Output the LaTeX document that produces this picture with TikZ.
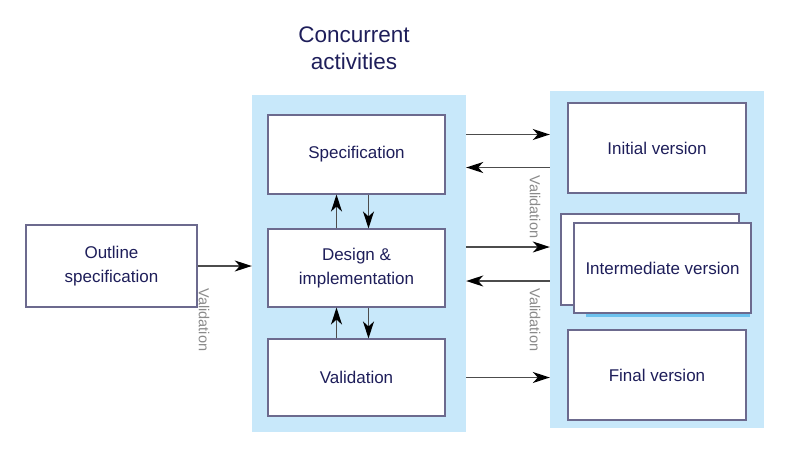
\documentclass[tikz,border=0pt]{standalone}
\usepackage{fontspec}
\setmainfont{Liberation Sans}
\usepackage{xcolor}
\usepackage{tikz}
\usetikzlibrary{calc}
\usetikzlibrary{arrows.meta}
\usetikzlibrary{positioning}
\definecolor{panelblue}{HTML}{C8E8FA}
\definecolor{boxline}{HTML}{6C6A8E}
\definecolor{txtnavy}{HTML}{1E1E5A}
\definecolor{valgray}{HTML}{8A8A8A}
\definecolor{shadowblue}{HTML}{6CC2EE}
\tikzset{>=latex}
\tikzstyle{panel} = [draw = none, fill = panelblue, inner sep = 0]
\tikzstyle{box} = [draw = boxline, fill = white, line width = 1.1pt, text = txtnavy, align = center, inner sep = 1, font = \fontsize{17}{24}\selectfont]
\tikzstyle{flow} = [-{Stealth[length = 17pt, width = 11pt, inset = 5pt, color = black]}, draw = black!70, line width = 1.3pt]
\tikzstyle{vlabel} = [text = valgray, rotate = -90, inner sep = 0, font = \fontsize{14.5}{16}\selectfont]

\begin{document}
\begin{tikzpicture}[x = 1pt, y = -1pt]
\useasboundingbox (0, 0) rectangle (794, 455);
\node [panel, minimum width = 214, minimum height = 337] (conc) at (359, 263.5) {};
\node [panel, minimum width = 214, minimum height = 337] (vers) at (657, 259.5) {};
\node [text = txtnavy, align = center, font = \fontsize{22.5}{27}\selectfont] (title) at (354, 48) {Concurrent\\activities};

\node [box, minimum width = 171, minimum height = 82] (outline) at (111.5, 266) {Outline\\specification};
\node [box, minimum width = 177, minimum height = 79] (spec) at (356.5, 154.5) {Specification};
\node [box, minimum width = 177, minimum height = 78] (design) at (356.5, 268) {Design \&\\implementation};
\node [box, minimum width = 177, minimum height = 77] (valid) at (356.5, 377.5) {Validation};

\node [box, minimum width = 178, minimum height = 90] (initial) at (657, 148) {Initial version};
\node [box, minimum width = 178, minimum height = 91] (interback) at (650, 259.5) {};
\node [box, minimum width = 177, minimum height = 90] (interfront) at (662.5, 268) {Intermediate version};
\draw [draw = shadowblue, line width = 2.5] ([xshift = 13, yshift = -2]interfront.south west) -- ([xshift = -2, yshift = -2]interfront.south east);
\node [box, minimum width = 178, minimum height = 90] (final) at (657, 375) {Final version};

\draw [flow] (outline.east) -- (outline.east -| conc.west);
\draw [flow] ([xshift = -20]design.north) -- ([xshift = -20]spec.south);
\draw [flow] ([xshift = 12]spec.south) -- ([xshift = 12]design.north);
\draw [flow] ([xshift = -20]valid.north) -- ([xshift = -20]design.south);
\draw [flow] ([xshift = 12]design.south) -- ([xshift = 12]valid.north);

\draw [flow] ([yshift = 20]spec.east -| conc.east) -- ([yshift = 20]spec.east -| vers.west);
\draw [flow] ([yshift = -13]spec.east -| vers.west) -- ([yshift = -13]spec.east -| conc.east);
\draw [flow] ([yshift = 21]design.east -| conc.east) -- ([yshift = 21]design.east -| vers.west);
\draw [flow] ([yshift = -13]design.east -| vers.west) -- ([yshift = -13]design.east -| conc.east);
\draw [flow] (valid.east -| conc.east) -- (valid.east -| vers.west);

\node [vlabel] (val1) at (204, 320) {Validation};
\node [vlabel] (val2) at (535, 207) {Validation};
\node [vlabel] (val3) at (535, 320) {Validation};
\end{tikzpicture}
\end{document}
